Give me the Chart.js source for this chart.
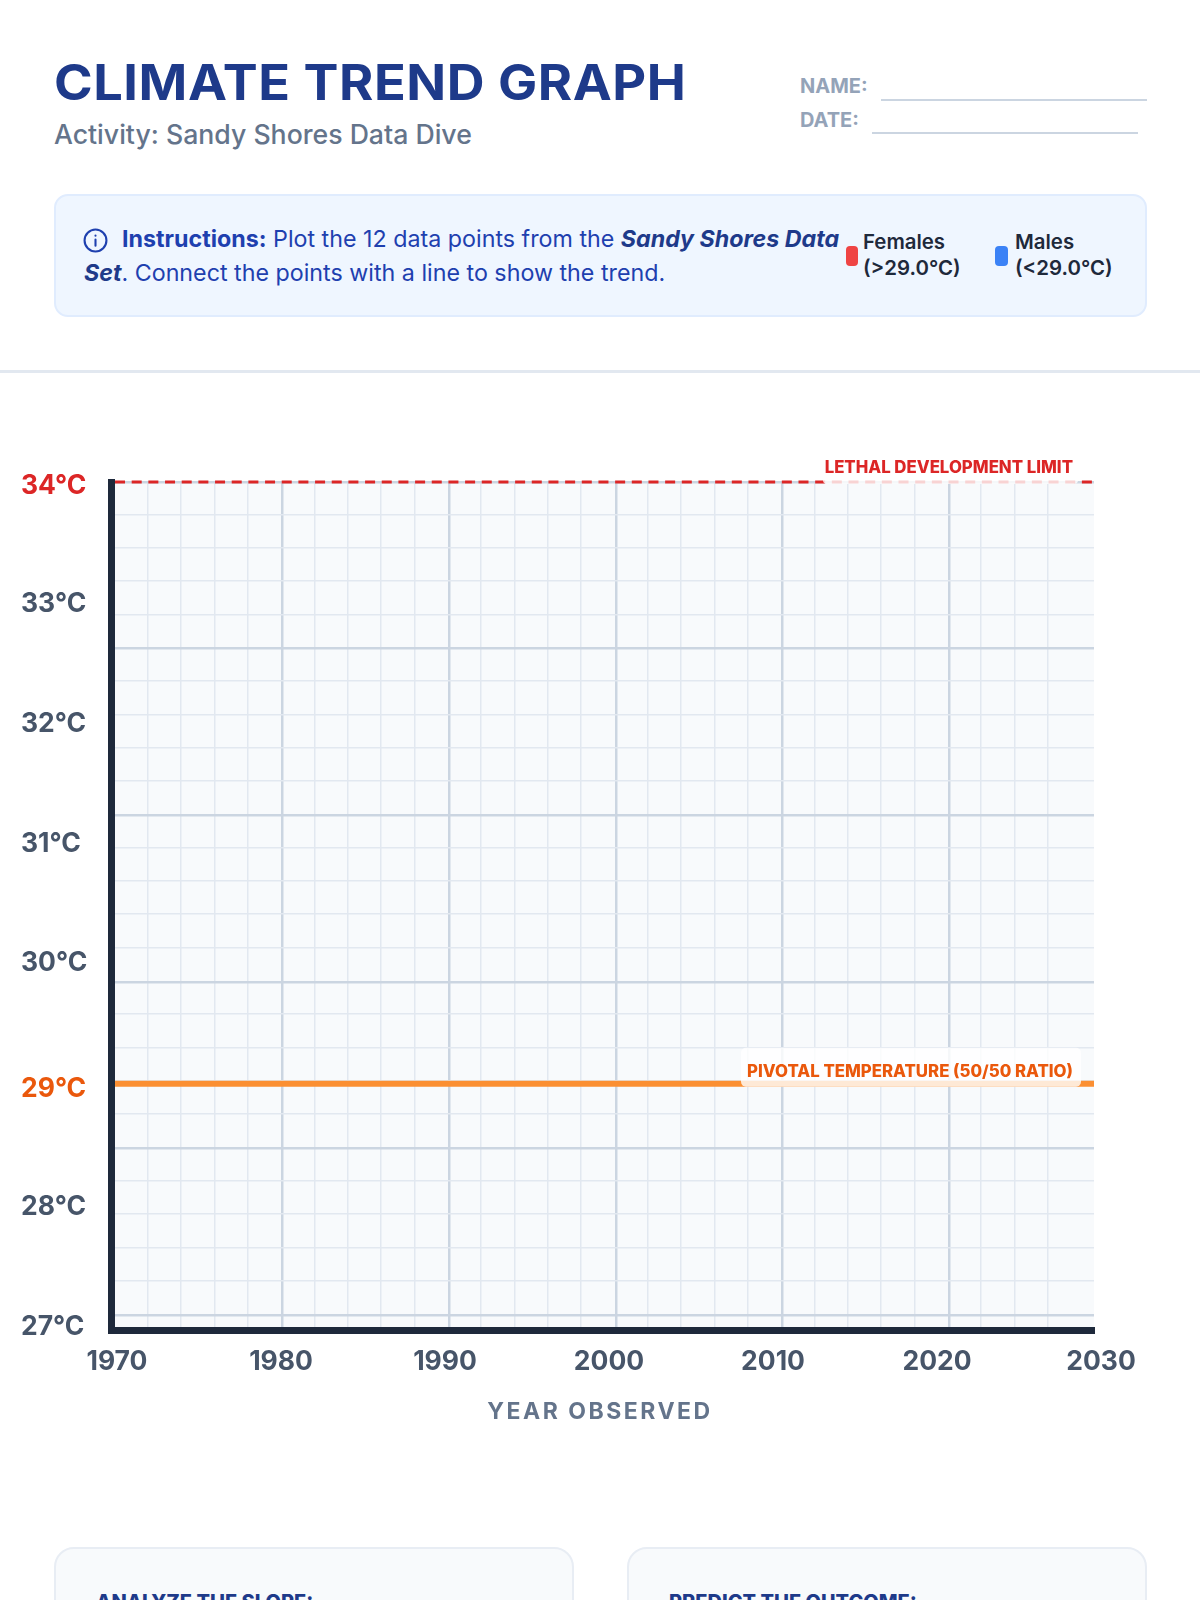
<!DOCTYPE html>
<html>
<head>
<meta charset="utf-8">
<title>Climate Trend Graph</title>
<script src="https://cdn.jsdelivr.net/npm/chart.js@4"></script>
<style>
  html, body { margin: 0; padding: 0; background: #fff; }
  body { position: relative; width: 1200px; height: 1600px; overflow: hidden; font-family: Inter, sans-serif; }
  .abs { position: absolute; white-space: nowrap; }
  #title { left: 54px; top: 53px; font-size: 49px; line-height: 60px; font-weight: 700; color: #1e3a8a; letter-spacing: 0.5px; transform: scaleX(1.068); transform-origin: left top; }
  #subtitle { left: 54px; top: 118px; font-size: 26.65px; line-height: 32px; font-weight: 500; color: #64748b; }
  .field { font-size: 20px; line-height: 24px; font-weight: 700; color: #94a3b8; left: 800px; }
  .rule { height: 2px; background: #cbd5e1; }
  #box { left: 54px; top: 194px; width: 1089px; height: 119px; background: #eff6ff; border: 2px solid #e0ecfe; border-radius: 14px; }
  .ins { font-size: 23.25px; line-height: 34px; color: #1e40af; }
  .ins b { font-weight: 700; }
  .ins b.em { font-style: italic; color: #1e3a8a; }
  .swatch { width: 12px; height: 20px; border-radius: 4px; }
  .key { font-size: 20.4px; line-height: 26px; font-weight: 600; color: #1e293b; }
  #divider { left: 0; top: 370px; width: 1200px; height: 3px; background: #e2e8f0; }
  #graph { position: absolute; left: 0; top: 400px; }
  .card { top: 1547px; width: 516px; height: 200px; background: #f8fafc; border: 2px solid #e8edf4; border-radius: 20px; }
  .cardHead { top: 1590px; font-size: 20px; line-height: 24px; font-weight: 800; color: #1e3a8a; }
</style>
</head>
<body>
<div class="abs" id="title">CLIMATE TREND GRAPH</div>
<div class="abs" id="subtitle">Activity: Sandy Shores Data Dive</div>
<div class="abs field" style="top:74px">NAME:</div>
<div class="abs rule" style="left:881px;top:99px;width:266px"></div>
<div class="abs field" style="top:108px">DATE:</div>
<div class="abs rule" style="left:872px;top:132px;width:266px"></div>

<div class="abs" id="box"></div>
<svg class="abs" style="left:83px;top:228px" width="25" height="25" viewBox="0 0 24 24" fill="none" stroke="#1e40af" stroke-width="2" stroke-linecap="round">
  <circle cx="12" cy="12" r="10.5"></circle><path d="M12 11v6M12 7.2v.2"></path>
</svg>
<div class="abs ins" style="left:122px;top:222px"><b>Instructions:</b> Plot the 12 data points from the <b class="em">Sandy Shores Data</b></div>
<div class="abs ins" style="left:84px;top:255.5px"><b class="em">Set</b>. Connect the points with a line to show the trend.</div>
<div class="abs swatch" style="left:846px;top:246px;background:#ef4444"></div>
<div class="abs key" style="left:863px;top:229px">Females<br>(&gt;29.0°C)</div>
<div class="abs swatch" style="left:995px;top:246px;width:13px;background:#3b82f6"></div>
<div class="abs key" style="left:1015px;top:229px">Males<br>(&lt;29.0°C)</div>
<div class="abs" id="divider"></div>

<canvas id="graph" width="1200" height="1060"></canvas>

<div class="abs card" style="left:54px"></div>
<div class="abs card" style="left:627px"></div>
<div class="abs cardHead" style="left:96px">ANALYZE THE SLOPE:</div>
<div class="abs cardHead" style="left:669px">PREDICT THE OUTCOME:</div>

<script>
  // axis values
  const yearTicks = [1970, 1980, 1990, 2000, 2010, 2020, 2030];
  const tempTicks = [34, 33, 32, 31, 30, 29, 28, 27];
  // the worksheet's temperature labels are not quite evenly spaced
  const tempLabelShift = [-0.034, -0.016, -0.013, -0.01, 0.007, -0.044, -0.028, -0.024];

  // visible ranges of the two axes
  const yearRange = [1969.665, 2029.57];
  const tempRange = [26.95, 34];

  // reference lines, they start at the inner edge of the y axis
  const lineYears = [1969.88, 2029.57];
  const lethalTemp = [34, 34];
  const pivotTemp = [29, 29];

  // graph paper, counted in cells from the top left corner
  const paperAcross = [-0.135, 29.34];
  const paperDown = [0, 25.46];
  const cellsPerMajor = 5;

  const ink = "#475569";
  const red = "#dc2626";
  const orange = "#ea580c";

  function tempColor(value) {
    const t = Math.round(value);
    if (t === 34) return red;
    if (t === 29) return orange;
    return ink;
  }

  function paperGrid() {
    return {
      color: (c) => (c.tick.value % cellsPerMajor === 0 ? "#cbd5e1" : "#e2e8f0"),
      lineWidth: (c) => (c.tick.value % cellsPerMajor === 0 ? 2.5 : 1.5),
      drawTicks: false,
    };
  }

  // minor lines sit a touch before the major ones on the printed paper
  function paperTicks(minorShift) {
    return (scale) => {
      scale.ticks = scale.ticks
        .filter((t) => Number.isInteger(t.value))
        .map((t) => ({ value: t.value % cellsPerMajor === 0 ? t.value : t.value - minorShift }));
    };
  }

  function roundRect(ctx, x, y, w, h, r) {
    ctx.beginPath();
    ctx.roundRect(x, y, w, h, r);
    ctx.fill();
  }

  // paper background under the grid
  const paperBackground = {
    id: "paperBackground",
    beforeDraw(chart) {
      const { ctx, chartArea: a } = chart;
      ctx.save();
      ctx.fillStyle = "#f8fafc";
      ctx.fillRect(a.left, a.top, a.right - a.left, a.bottom - a.top);
      ctx.restore();
    },
  };

  // labels sitting on the two reference lines + the x axis title
  const lineLabels = {
    id: "lineLabels",
    afterDatasetsDraw(chart) {
      const { ctx, scales } = chart;
      const yLethal = scales.y.getPixelForValue(lethalTemp[0]);
      const yPivot = scales.y.getPixelForValue(pivotTemp[0]);
      ctx.save();
      ctx.fillStyle = "rgba(255,255,255,0.8)";
      roundRect(ctx, 823, yLethal - 30, 255, 32, 4);
      roundRect(ctx, 741, yPivot - 36, 340, 39, 5);

      ctx.textBaseline = "middle";
      ctx.textAlign = "right";
      ctx.font = "800 16.8px Inter";
      ctx.fillStyle = red;
      ctx.fillText("LETHAL DEVELOPMENT LIMIT", 1073, yLethal - 14);
      ctx.fillStyle = orange;
      ctx.fillText("PIVOTAL TEMPERATURE (50/50 RATIO)", 1073, yPivot - 12);

      ctx.textAlign = "center";
      ctx.font = "700 23px Inter";
      ctx.letterSpacing = "2.5px";
      ctx.fillStyle = "#64748b";
      ctx.fillText("YEAR OBSERVED", 600, scales.x.bottom - 48);
      ctx.restore();
    },
  };

  new Chart(document.getElementById("graph"), {
    type: "line",
    data: {
      labels: lineYears,
      datasets: [
        {
          label: "Lethal development limit",
          data: lineYears.map((x, i) => ({ x, y: lethalTemp[i] })),
          borderColor: red,
          borderWidth: 3,
          borderDash: [10, 6.67],
          pointRadius: 0,
          clip: false,
        },
        {
          label: "Pivotal temperature",
          data: lineYears.map((x, i) => ({ x, y: pivotTemp[i] })),
          borderColor: "#fb8f32",
          borderWidth: 6,
          pointRadius: 0,
        },
      ],
    },
    plugins: [paperBackground, lineLabels],
    options: {
      responsive: false,
      animation: false,
      layout: { padding: { left: 21, right: 106, top: 82, bottom: 0 } },
      plugins: { legend: { display: false }, tooltip: { enabled: false } },
      scales: {
        x: {
          type: "linear",
          min: yearRange[0],
          max: yearRange[1],
          afterBuildTicks: (s) => { s.ticks = yearTicks.map((value) => ({ value })); },
          afterFit: (s) => { s.height = 129.5; },
          grid: { display: false },
          border: { color: "#1e293b", width: 7 },
          ticks: {
            autoSkip: false,
            maxRotation: 0,
            padding: 8,
            color: ink,
            font: { family: "Inter", size: 26.5, weight: 700 },
            callback: (v) => String(v),
          },
        },
        y: {
          type: "linear",
          min: tempRange[0],
          max: tempRange[1],
          afterBuildTicks: (s) => { s.ticks = tempTicks.map((t, i) => ({ value: t + tempLabelShift[i] })); },
          afterFit: (s) => { s.width = 90.5; },
          grid: { display: false },
          border: { color: "#1e293b", width: 7 },
          ticks: {
            autoSkip: false,
            crossAlign: "far",
            color: (c) => tempColor(c.tick.value),
            font: { family: "Inter", size: 26.5, weight: 700 },
            callback: (v) => Math.round(v) + "°C",
          },
        },
        paperX: {
          type: "linear",
          position: "top",
          min: paperAcross[0],
          max: paperAcross[1],
          afterBuildTicks: paperTicks(0.045),
          grid: paperGrid(),
          border: { display: false },
          ticks: { display: false, stepSize: 1, autoSkip: false },
        },
        paperY: {
          type: "linear",
          position: "right",
          reverse: true,
          min: paperDown[0],
          max: paperDown[1],
          afterBuildTicks: paperTicks(0.03),
          grid: paperGrid(),
          border: { display: false },
          ticks: { display: false, stepSize: 1, autoSkip: false },
        },
      },
    },
  });
</script>
</body>
</html>
